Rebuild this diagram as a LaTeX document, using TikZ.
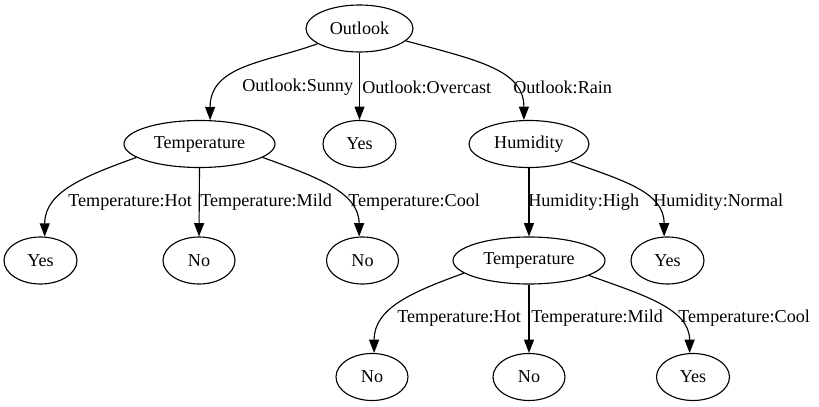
\documentclass[tikz,border=0pt]{standalone}
\usepackage{fontspec}
\setmainfont{Liberation Serif}
\usetikzlibrary{arrows.meta,shapes.geometric}
\begin{document}
\begin{tikzpicture}[x=0.75pt,y=0.75pt,
  every node/.style={font=\fontsize{13.6}{16}\selectfont},
  tnode/.style={draw,ellipse,line width=0.85pt,inner sep=0pt,minimum height=35.25pt},
  elabel/.style={anchor=west,inner sep=0pt},
  conn/.style={line width=0.85pt,-{Triangle[length=10pt,width=7.5pt]}}]
\useasboundingbox (0,0) rectangle (819,-407);
% nodes
\node[tnode,minimum width=80.25pt] (O) at (359.5,-28.5) {Outlook};
\node[tnode,minimum width=113.25pt] (T1) at (199.5,-144) {Temperature};
\node[tnode,minimum width=54.75pt] (Y1) at (359.5,-144) {Yes};
\node[tnode,minimum width=90pt] (H) at (529,-144) {Humidity};
\node[tnode,minimum width=54.75pt] (Y2) at (40.5,-260.5) {Yes};
\node[tnode,minimum width=54pt] (N1) at (199,-260.5) {No};
\node[tnode,minimum width=54pt] (N2) at (362.5,-260.5) {No};
\node[tnode,minimum width=114pt] (T2) at (529,-260.5) {Temperature};
\node[tnode,minimum width=54.75pt] (Y3) at (667.5,-260.5) {Yes};
\node[tnode,minimum width=54pt] (N3) at (372,-377) {No};
\node[tnode,minimum width=54pt] (N4) at (529,-377) {No};
\node[tnode,minimum width=54.75pt] (Y4) at (693,-377) {Yes};
% edge labels
\node[elabel] (L1) at (242,-87.5) {Outlook:Sunny};
\node[elabel] (L2) at (362,-87.5) {Outlook:Overcast};
\node[elabel] (L3) at (513,-87.5) {Outlook:Rain};
\node[elabel] (L4) at (68,-202.5) {Temperature:Hot};
\node[elabel] (L5) at (200,-202.5) {Temperature:Mild};
\node[elabel] (L6) at (348,-202.5) {Temperature:Cool};
\node[elabel] (L7) at (528,-202.5) {Humidity:High};
\node[elabel] (L8) at (653,-202.5) {Humidity:Normal};
\node[elabel] (L9) at (397,-318.5) {Temperature:Hot};
\node[elabel] (L10) at (531,-318.5) {Temperature:Mild};
\node[elabel] (L11) at (678,-318.5) {Temperature:Cool};
% connectors
\draw[conn] (O.200) .. controls +(200:55) and +(90:55) .. (T1.66);
\draw[conn] (O.south) -- (Y1.north);
\draw[conn] (O.345) .. controls +(-15:75) and +(90:50) .. (H.102);
\draw[conn] (T1.192) .. controls +(200:55) and +(90:45) .. (Y2.80);
\draw[conn] (T1.south) -- (N1.north);
\draw[conn] (T1.348) .. controls +(-20:55) and +(90:45) .. (N2.98);
\draw[conn] (H.south) -- (T2.north);
\draw[conn] (H.337) .. controls +(-20:55) and +(90:45) .. (Y3.98);
\draw[conn] (T2.191) .. controls +(200:55) and +(90:45) .. (N3.85);
\draw[conn] (T2.south) -- (N4.north);
\draw[conn] (T2.346) .. controls +(-20:55) and +(90:45) .. (Y4.98);
\end{tikzpicture}
\end{document}
